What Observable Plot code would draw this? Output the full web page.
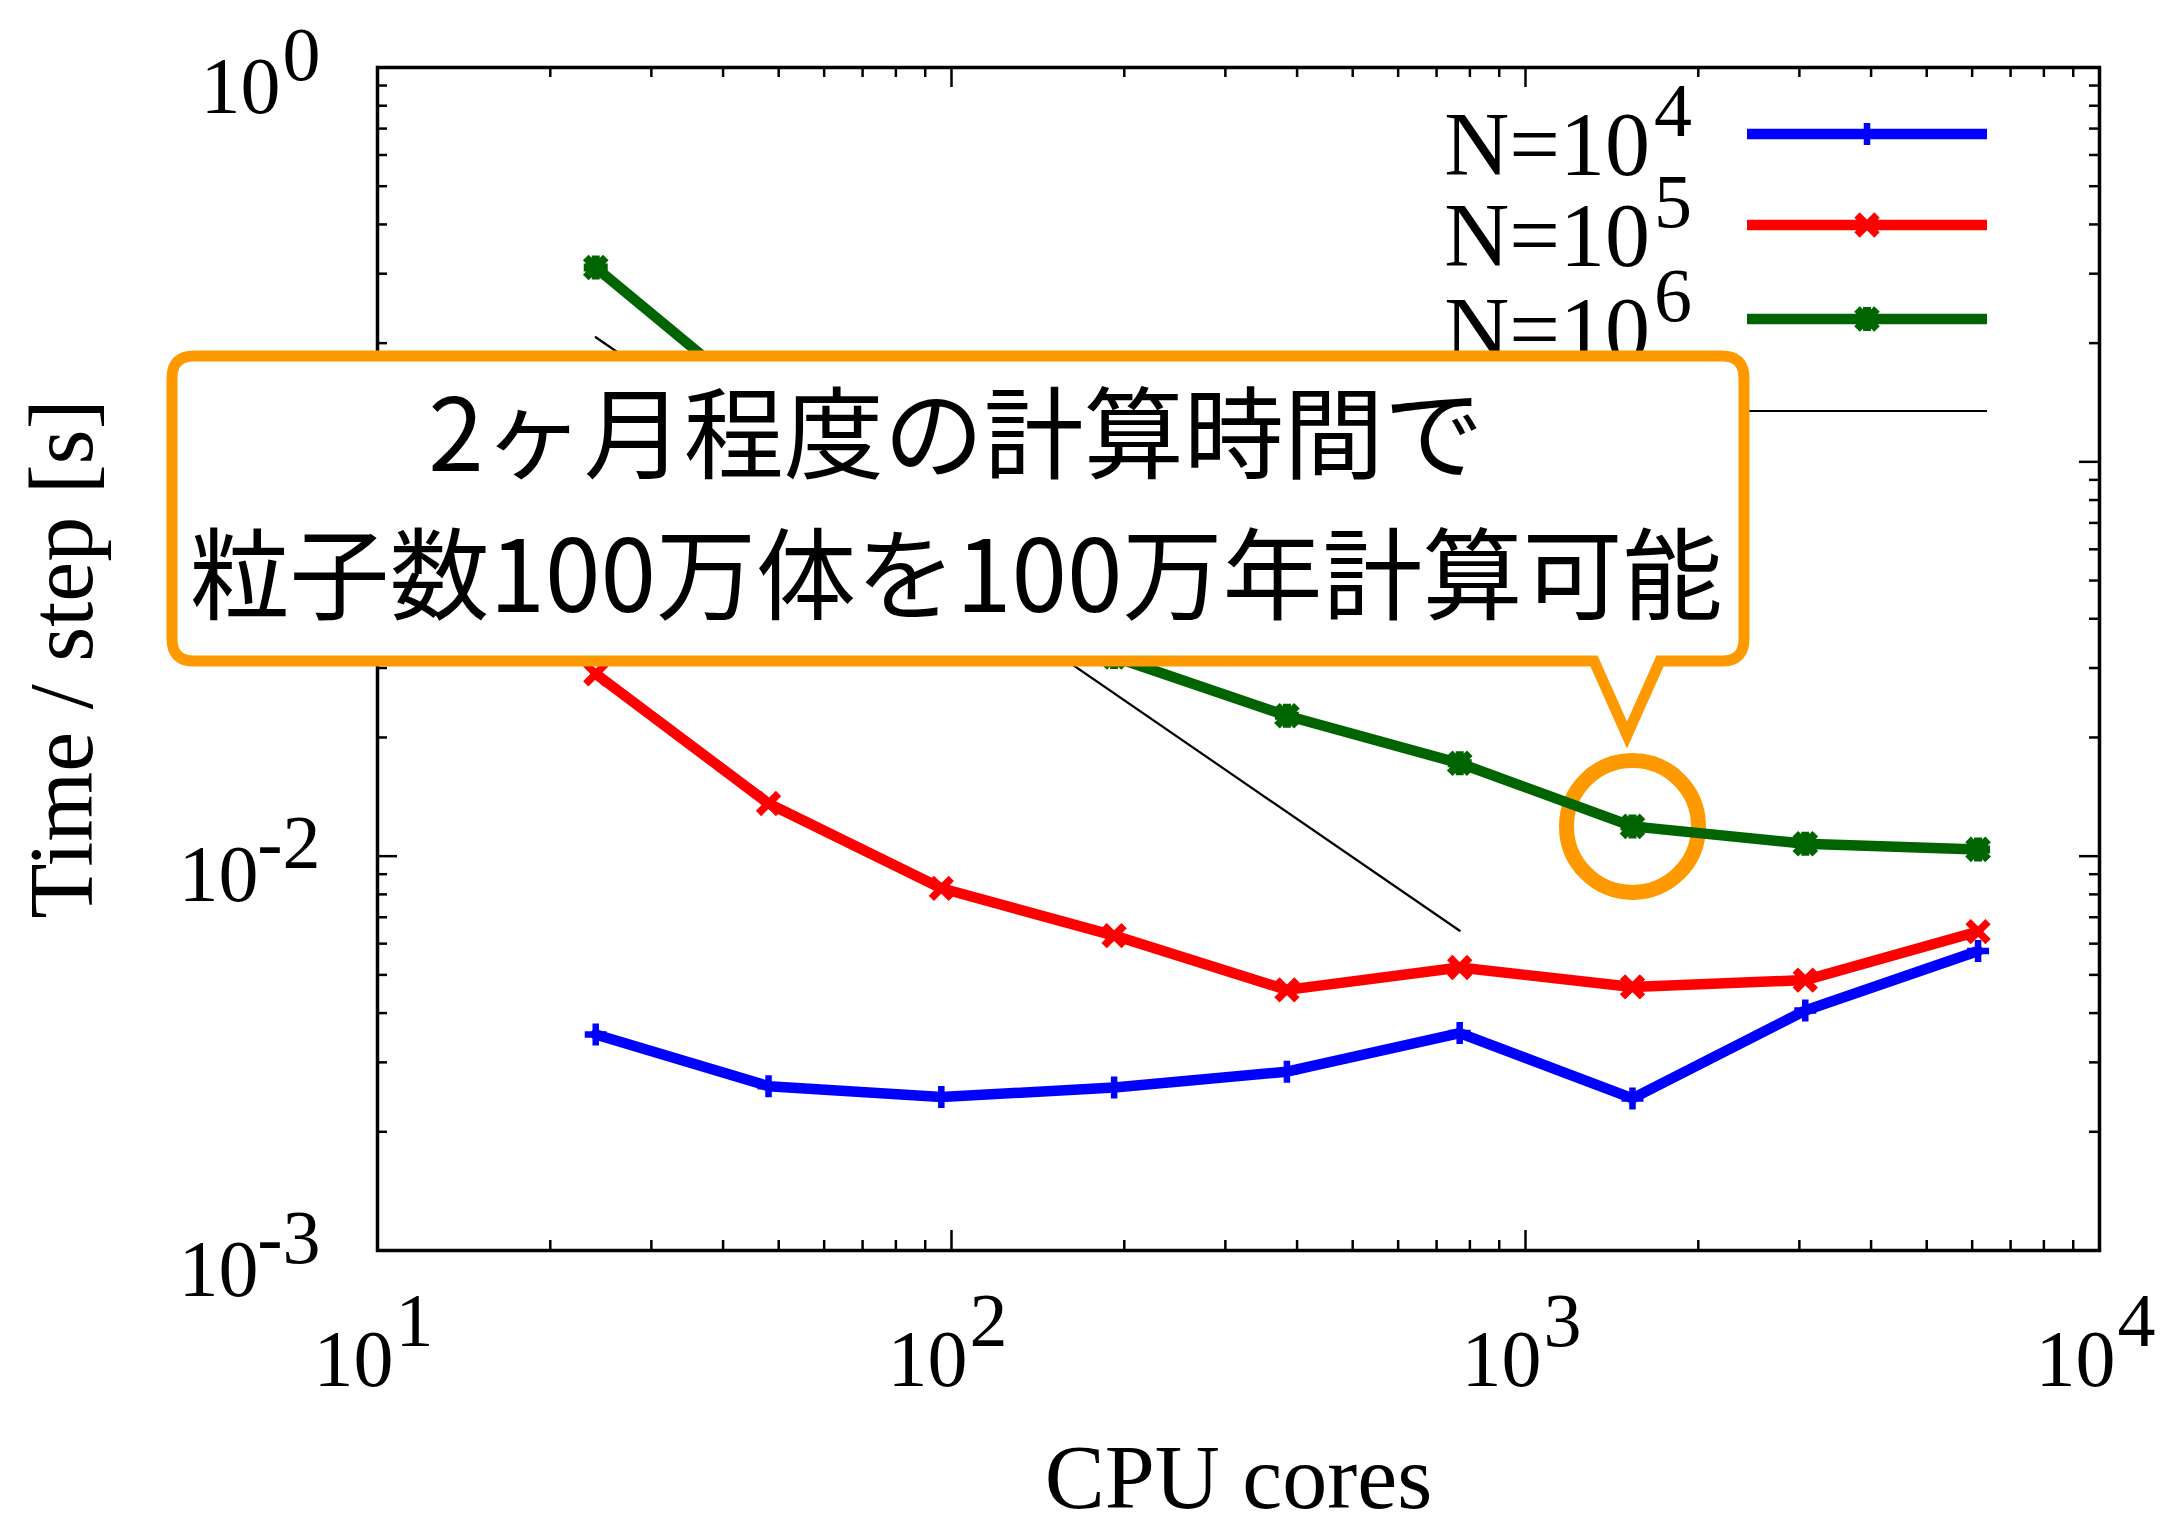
<!DOCTYPE html>
<html><head><meta charset="utf-8">
<script src="https://cdn.jsdelivr.net/npm/d3@7"></script>
<script src="https://cdn.jsdelivr.net/npm/@observablehq/plot@0.6"></script>
<style>html,body{margin:0;padding:0;background:#fff}svg{display:block}</style>
</head><body><div id="chart"></div>
<script>
// ---- data ----
const cores = [24, 48, 96, 192, 384, 768, 1536, 3072, 6144];
const seriesNames = ["N=10", "N=10", "N=10"];
const seriesExp = ["4", "5", "6"];
const seriesColors = ["#0000ff", "#ff0000", "#006400"];
const timeN4 = [0.00353, 0.00261, 0.00245, 0.00259, 0.00284, 0.00356, 0.00243, 0.00406, 0.00575];
const timeN5 = [0.0290, 0.0136, 0.00829, 0.00629, 0.00458, 0.00522, 0.00466, 0.00485, 0.00644];
const timeN6 = [0.311, 0.135, 0.065, 0.032, 0.0227, 0.0172, 0.0119, 0.01075, 0.0104];
const idealCores = [24, 768];
const idealTime = [0.207, 0.00647];
const xTicks = [10, 100, 1000, 10000];
const xTickExp = ["1", "2", "3", "4"];
const yTicks = [0.001, 0.01, 0.1, 1];
const yTickExp = ["-3", "-2", "-1", "0"];
const minorMult = [2, 3, 4, 5, 6, 7, 8, 9];
const xLabel = "CPU cores";
const yLabel = "Time / step [s]";
const calloutLines = ["2ヶ月程度の計算時間で", "粒子数100万体を100万年計算可能"];
const highlightIndex = 6; // 1536 cores, N=10^6

// ---- layout ----
const W = 2182, H = 1517;
const mL = 377, mR = 83, mT = 67, mB = 267;
const pw = W - mL - mR, ph = H - mT - mB;
const serif = "'Liberation Serif', 'DejaVu Serif', serif";
const orange = "#ff9900";
const lineW = 10.5;

const series = [timeN4, timeN5, timeN6].map((arr, i) =>
  cores.map((c, j) => ({cores: c, time: arr[j], s: i})));
const ideal = idealCores.map((c, j) => ({cores: c, time: idealTime[j]}));

const minorX = xTicks.slice(0, -1).flatMap(d => minorMult.map(m => d * m));
const minorY = yTicks.slice(0, -1).flatMap(d => minorMult.map(m => d * m));

function mkSym(kind, r, q) {
  return {draw(ctx) {
    if (kind !== "times") { ctx.moveTo(-r, 0); ctx.lineTo(r, 0); ctx.moveTo(0, -r); ctx.lineTo(0, r); }
    if (kind !== "plus") { ctx.moveTo(-q, -q); ctx.lineTo(q, q); ctx.moveTo(-q, q); ctx.lineTo(q, -q); }
  }};
}
const symbols = [mkSym("plus", 11, 0), mkSym("times", 0, 10), mkSym("star", 12, 10)];
const symStroke = [6.5, 7.5, 8];

const tickStyle = {stroke: "black", strokeWidth: 2.5};
const yTickData = yTicks.map((d, i) => ({v: d, e: yTickExp[i]}));
const xTickData = xTicks.map((d, i) => ({v: d, e: xTickExp[i]}));

const marks = [
  // highlight circle (under lines)
  Plot.dot([series[2][highlightIndex]], {x: "cores", y: "time", r: 66, stroke: orange, strokeWidth: 15, fill: "none"}),
  // ticks inside on all sides
  Plot.tickX(xTicks, {x: d => d, insetTop: ph - 20, ...tickStyle}),
  Plot.tickX(xTicks, {x: d => d, insetBottom: ph - 20, ...tickStyle}),
  Plot.tickX(minorX, {x: d => d, insetTop: ph - 10, ...tickStyle}),
  Plot.tickX(minorX, {x: d => d, insetBottom: ph - 10, ...tickStyle}),
  Plot.tickY(yTicks, {y: d => d, insetRight: pw - 20, ...tickStyle}),
  Plot.tickY(yTicks, {y: d => d, insetLeft: pw - 20, ...tickStyle}),
  Plot.tickY(minorY, {y: d => d, insetRight: pw - 10, ...tickStyle}),
  Plot.tickY(minorY, {y: d => d, insetLeft: pw - 10, ...tickStyle}),
  Plot.frame({stroke: "black", strokeWidth: 3.5}),
  // x tick labels
  Plot.text(xTickData, {x: "v", text: () => "10", frameAnchor: "bottom", textAnchor: "end", lineAnchor: "bottom", dx: 16, dy: 135, fontSize: 80, fontFamily: serif, fill: "black"}),
  Plot.text(xTickData, {x: "v", text: "e", frameAnchor: "bottom", textAnchor: "start", lineAnchor: "bottom", dx: 18, dy: 95, fontSize: 76, fontFamily: serif, fill: "black"}),
  // y tick labels
  Plot.text(yTickData.filter(d => d.e.length === 1), {y: "v", text: () => "10", frameAnchor: "left", textAnchor: "end", lineAnchor: "bottom", dx: -97, dy: 45, fontSize: 80, fontFamily: serif, fill: "black"}),
  Plot.text(yTickData.filter(d => d.e.length > 1), {y: "v", text: () => "10", frameAnchor: "left", textAnchor: "end", lineAnchor: "bottom", dx: -119, dy: 45, fontSize: 80, fontFamily: serif, fill: "black"}),
  Plot.text(yTickData, {y: "v", text: "e", frameAnchor: "left", textAnchor: "end", lineAnchor: "bottom", dx: -57, dy: 12, fontSize: 76, fontFamily: serif, fill: "black"}),
  // axis titles
  Plot.text([xLabel], {frameAnchor: "bottom", textAnchor: "middle", lineAnchor: "bottom", dy: 257, fontSize: 90, fontFamily: serif, fill: "black"}),
  Plot.text([yLabel], {frameAnchor: "left", textAnchor: "middle", rotate: -90, lineAnchor: "middle", dx: -314, fontSize: 90, fontFamily: serif, fill: "black"}),
  // ideal scaling line
  Plot.line(ideal, {x: "cores", y: "time", stroke: "black", strokeWidth: 2.2}),
];
series.forEach((data, i) => {
  marks.push(Plot.line(data, {x: "cores", y: "time", stroke: seriesColors[i], strokeWidth: lineW, strokeLinejoin: "round"}));
});
series.forEach((data, i) => {
  marks.push(Plot.dot(data, {x: "cores", y: "time", symbol: symbols[i], stroke: seriesColors[i], strokeWidth: symStroke[i], fill: "none"}));
});

const plot = Plot.plot({
  width: W, height: H,
  marginLeft: mL, marginRight: mR, marginTop: mT, marginBottom: mB,
  x: {type: "log", domain: [10, 10000], axis: null},
  y: {type: "log", domain: [0.001, 1], axis: null},
  style: {background: "white", fontFamily: serif, overflow: "visible"},
  marks
});
document.getElementById("chart").appendChild(plot);

// ---- legend (inside, top right) ----
const svg = d3.select(plot);
const lg = svg.append("g").attr("class", "legend");
const rowsY = [134, 225, 319, 411];
const lx1 = 1747, lx2 = 1987, lmx = 1867;
seriesNames.forEach((name, i) => {
  const y = rowsY[i];
  lg.append("text").attr("x", 1650).attr("y", y + 41).attr("text-anchor", "end")
    .attr("font-family", serif).attr("font-size", 90).attr("fill", "black").text(name);
  lg.append("text").attr("x", 1654).attr("y", y + 2).attr("text-anchor", "start")
    .attr("font-family", serif).attr("font-size", 76).attr("fill", "black").text(seriesExp[i]);
  lg.append("line").attr("x1", lx1).attr("x2", lx2).attr("y1", y).attr("y2", y)
    .attr("stroke", seriesColors[i]).attr("stroke-width", lineW);
  lg.append("path").attr("d", d3.symbol(symbols[i])()).attr("transform", `translate(${lmx},${y})`)
    .attr("fill", "none").attr("stroke", seriesColors[i]).attr("stroke-width", symStroke[i]);
});
lg.append("line").attr("x1", lx1).attr("x2", lx2).attr("y1", rowsY[3]).attr("y2", rowsY[3])
  .attr("stroke", "black").attr("stroke-width", 2.2);

// ---- callout ----
const cg = svg.append("g").attr("class", "callout");
const bx0 = 172, bx1 = 1744, by0 = 356, by1 = 661, br = 22;
const tipX = 1627, tipY = 735, baseL = 1594, baseR = 1660;
const pathD = `M${bx0 + br},${by0} H${bx1 - br} Q${bx1},${by0} ${bx1},${by0 + br} V${by1 - br} Q${bx1},${by1} ${bx1 - br},${by1} H${baseR} L${tipX},${tipY} L${baseL},${by1} H${bx0 + br} Q${bx0},${by1} ${bx0},${by1 - br} V${by0 + br} Q${bx0},${by0} ${bx0 + br},${by0} Z`;
cg.append("path").attr("d", pathD).attr("fill", "white").attr("stroke", orange)
  .attr("stroke-width", 11).attr("stroke-linejoin", "miter").attr("stroke-miterlimit", 10);
const cjk = "'Noto Sans CJK JP', 'Noto Sans CJK SC', sans-serif";
[427, 568].forEach((cy, i) => {
  cg.append("text").attr("x", 956).attr("y", cy).attr("text-anchor", "middle")
    .attr("dominant-baseline", "central").attr("font-family", cjk).attr("font-size", 100)
    .attr("fill", "black").text(calloutLines[i]);
});
</script>
</body></html>
